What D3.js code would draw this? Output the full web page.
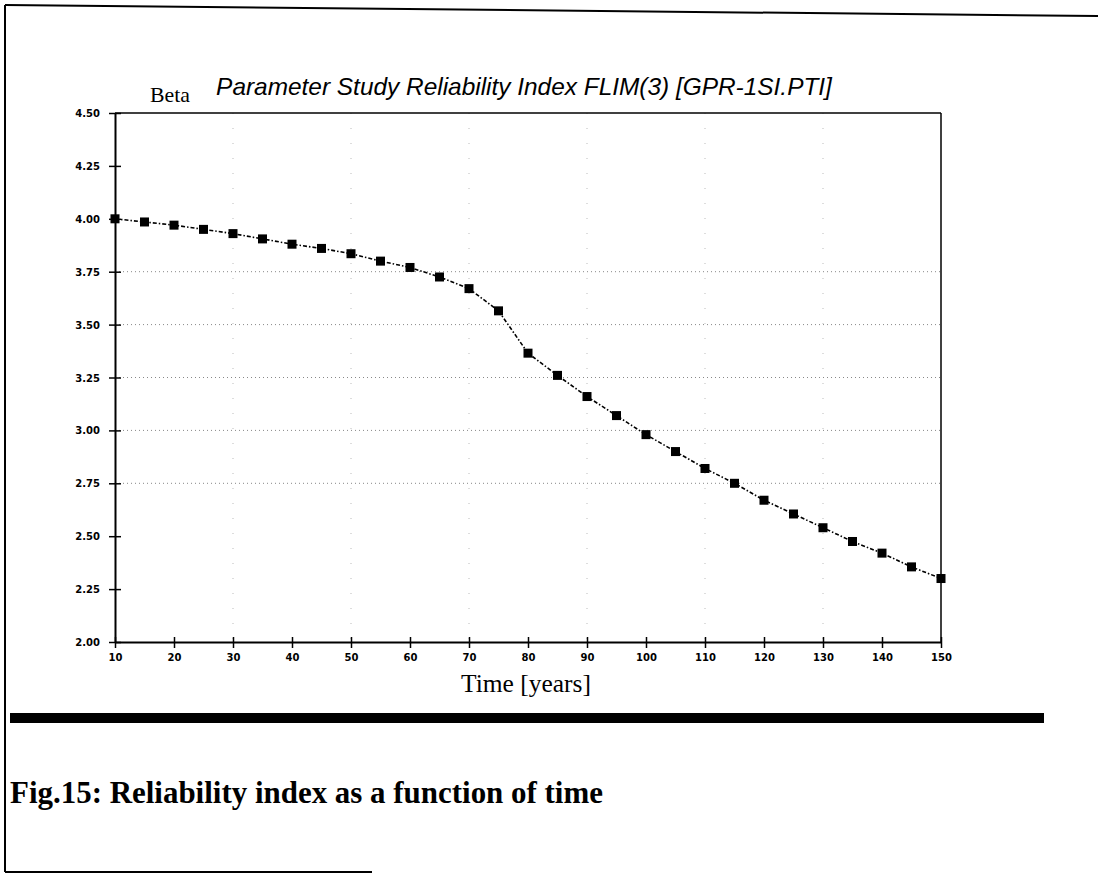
<!DOCTYPE html>
<html>
<head>
<meta charset="utf-8">
<script src="https://cdn.jsdelivr.net/npm/d3@7"></script>
<style>
  html, body { margin: 0; padding: 0; background: #fff; }
  svg { display: block; }
</style>
</head>
<body>
<svg id="chart" width="1098" height="875"></svg>
<script>
// Reliability index (beta) over service life
const years = [10, 15, 20, 25, 30, 35, 40, 45, 50, 55, 60, 65, 70, 75, 80,
               85, 90, 95, 100, 105, 110, 115, 120, 125, 130, 135, 140, 145, 150];
const beta  = [4.00, 3.985, 3.97, 3.95, 3.93, 3.905, 3.88, 3.86, 3.835, 3.80, 3.77, 3.725, 3.67, 3.565, 3.365,
               3.26, 3.16, 3.07, 2.98, 2.90, 2.82, 2.75, 2.67, 2.605, 2.54, 2.475, 2.42, 2.355, 2.30];
const xTicks = [10, 20, 30, 40, 50, 60, 70, 80, 90, 100, 110, 120, 130, 140, 150];
const yTicks = [2.00, 2.25, 2.50, 2.75, 3.00, 3.25, 3.50, 3.75, 4.00, 4.25, 4.50];
const yGrid  = [2.75, 3.00, 3.25, 3.50, 3.75];
const xGrid  = [30, 50, 70, 90, 110, 130];

const titleText   = "Parameter Study Reliability Index FLIM(3) [GPR-1SI.PTI]";
const yLabelText  = "Beta";
const xLabelText  = "Time [years]";
const captionText = "Fig.15: Reliability index as a function of time";

const svg = d3.select("#chart");

// page frame
const frame = svg.append("g").attr("stroke", "#000").attr("fill", "none");
frame.append("line").attr("x1", 5).attr("y1", 5).attr("x2", 1098).attr("y2", 16).attr("stroke-width", 2);
frame.append("line").attr("x1", 5).attr("y1", 5).attr("x2", 5).attr("y2", 872).attr("stroke-width", 2);
frame.append("line").attr("x1", 5).attr("y1", 872).attr("x2", 372).attr("y2", 872).attr("stroke-width", 2);

// heavy rule under the plot
svg.append("rect").attr("x", 10).attr("y", 713).attr("width", 1034).attr("height", 10).attr("fill", "#000");

// plot area
const plotL = 115, plotR = 941, plotT = 113, plotB = 642;
const x = d3.scaleLinear().domain([10, 150]).range([plotL, plotR]);
const y = d3.scaleLinear().domain([2.0, 4.5]).range([plotB, plotT]);

// faint dotted grid
const grid = svg.append("g").attr("stroke", "#888").attr("stroke-width", 1).attr("stroke-dasharray", "1,3");
grid.selectAll("line.h").data(yGrid).join("line").attr("class", "h")
  .attr("x1", plotL).attr("x2", plotR).attr("y1", d => y(d)).attr("y2", d => y(d));
grid.selectAll("line.v").data(xGrid).join("line").attr("class", "v")
  .attr("x1", d => x(d)).attr("x2", d => x(d)).attr("y1", plotT).attr("y2", plotB)
  .attr("stroke", "#bbb").attr("stroke-dasharray", "1,14");

// frame top and right
svg.append("line").attr("x1", plotL).attr("x2", plotR).attr("y1", plotT).attr("y2", plotT)
  .attr("stroke", "#000").attr("stroke-width", 1.5);
svg.append("line").attr("x1", plotR).attr("x2", plotR).attr("y1", plotT).attr("y2", plotB)
  .attr("stroke", "#000").attr("stroke-width", 1.5);

// axes with ticks crossing the axis line
const xAxis = d3.axisBottom(x).tickValues(xTicks).tickSize(0).tickFormat(d3.format("d"));
const gx = svg.append("g").attr("transform", `translate(0,${plotB})`).call(xAxis);
gx.select(".domain").attr("stroke-width", 2);
gx.selectAll(".tick line").attr("y1", -5).attr("y2", 6).attr("stroke-width", 1.5);
gx.selectAll(".tick text").attr("dy", 0).attr("y", 19)
  .attr("font-family", "DejaVu Sans").attr("font-weight", "bold").attr("font-size", 10).attr("fill", "#000");

const yAxis = d3.axisLeft(y).tickValues(yTicks).tickSize(0).tickFormat(d3.format(".2f"));
const gy = svg.append("g").attr("transform", `translate(${plotL},0)`).call(yAxis);
gy.select(".domain").attr("stroke-width", 2);
gy.selectAll(".tick line").attr("x1", -6).attr("x2", 6).attr("stroke-width", 1.5);
gy.selectAll(".tick text").attr("x", -15).attr("dy", "0.35em")
  .attr("font-family", "DejaVu Sans").attr("font-weight", "bold").attr("font-size", 10).attr("fill", "#000");

// series line
const line = d3.line().x((d, i) => x(years[i])).y(d => y(d));
svg.append("path").datum(beta).attr("d", line)
  .attr("fill", "none").attr("stroke", "#000").attr("stroke-width", 1.6)
  .attr("stroke-dasharray", "4,2,1.5,2");

// square markers
const ms = 9;
svg.append("g").selectAll("rect").data(beta).join("rect")
  .attr("x", (d, i) => x(years[i]) - ms / 2)
  .attr("y", d => y(d) - ms / 2)
  .attr("width", ms).attr("height", ms).attr("fill", "#000");

// texts, each scaled to its intended width
function fitText(sel, width) {
  const w = sel.node().getComputedTextLength();
  const fs = parseFloat(sel.attr("font-size"));
  sel.attr("font-size", (fs * width / w).toFixed(2));
}

const title = svg.append("text").attr("x", 524).attr("y", 95).attr("text-anchor", "middle")
  .attr("font-family", "Liberation Sans, Arial, sans-serif").attr("font-style", "italic")
  .attr("font-size", 16).attr("fill", "#000").text(titleText);
fitText(title, 616);

const yl = svg.append("text").attr("x", 150).attr("y", 102)
  .attr("font-family", "Liberation Serif, Times New Roman, serif")
  .attr("font-size", 20).attr("fill", "#000").text(yLabelText);
fitText(yl, 40);

const xl = svg.append("text").attr("x", 526).attr("y", 692).attr("text-anchor", "middle")
  .attr("font-family", "Liberation Serif, Times New Roman, serif")
  .attr("font-size", 21).attr("fill", "#000").text(xLabelText);
fitText(xl, 130);

const cap = svg.append("text").attr("x", 10).attr("y", 803)
  .attr("font-family", "Liberation Serif, Times New Roman, serif").attr("font-weight", "bold")
  .attr("font-size", 26).attr("fill", "#000").text(captionText);
fitText(cap, 593);
</script>
</body>
</html>
